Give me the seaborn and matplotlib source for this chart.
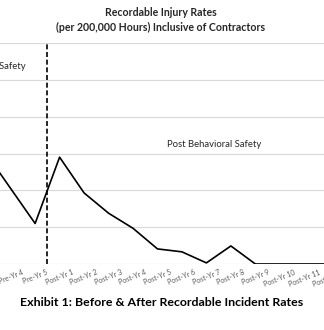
import matplotlib
matplotlib.use("Agg")
import matplotlib.pyplot as plt
import seaborn as sns
import pandas as pd
import numpy as np

categories = ["Pre-Yr 1", "Pre-Yr 2", "Pre-Yr 3", "Pre-Yr 4", "Pre-Yr 5",
              "Post-Yr 1", "Post-Yr 2", "Post-Yr 3", "Post-Yr 4", "Post-Yr 5",
              "Post-Yr 6", "Post-Yr 7", "Post-Yr 8", "Post-Yr 9", "Post-Yr 10",
              "Post-Yr 11", "Post-Yr 12"]
rates = [3.6, 3.3, 3.0, 2.05, 1.1,
         2.9, 1.93, 1.38, 0.97, 0.41,
         0.33, 0.03, 0.49, 0.0, 0.0,
         0.0, 0.0]
y_ticks = [0, 1, 2, 3, 4, 5, 6]

sns.set_style("white")
plt.rcParams['font.family'] = ['Lato', 'DejaVu Sans']

df = pd.DataFrame({"idx": np.arange(len(categories)), "rate": rates})

fig = plt.figure(figsize=(3.24, 3.30), dpi=100)
ax = fig.add_axes([-75/324, 66/330, 416/324, 221/330])

for y in y_ticks:
    ax.axhline(y, color="#d9d9d9", lw=0.8, zorder=0)

sns.lineplot(data=df, x="idx", y="rate", ax=ax, color="black", lw=1.2, zorder=3)
ax.axvline(4.5, color="black", lw=1.2, ls=(0, (3, 1.6)), zorder=4)

ax.set_xlim(-0.5, len(categories) - 0.5)
ax.set_ylim(0, 6)
ax.set_xticks(np.arange(len(categories)))
ax.set_xticklabels(categories, rotation=22, ha="center", fontsize=5, color="#595959")
ax.tick_params(axis="x", length=0, pad=3.5)
ax.set_xticks(np.arange(len(categories)) - 0.5, minor=True)
ax.tick_params(axis="x", which="minor", length=3, color="#d9d9d9", width=0.8)
ax.set_yticks([])
ax.set_xlabel("")
ax.set_ylabel("")
for s in ax.spines.values():
    s.set_visible(False)

ax.text(1.8, 5.35, "Pre Behavioral Safety", ha="center", va="center", fontsize=6.8, color="#262626")
ax.text(11.3, 3.25, "Post Behavioral Safety", ha="center", va="center", fontsize=6.8, color="#262626")

fig.text(161/324, 1 - 13/330, "Recordable Injury Rates", ha="center", va="center",
         fontsize=7.6, fontweight="bold", color="#262626")
fig.text(161/324, 1 - 27/330, "(per 200,000 Hours) Inclusive of Contractors", ha="center", va="center",
         fontsize=7.6, fontweight="bold", color="#262626")
fig.text(162/324, 1 - 303/330, "Exhibit 1: Before & After Recordable Incident Rates", ha="center",
         va="center", fontsize=8.9, fontweight="bold", color="black")

fig.savefig("out.png", dpi=100)
